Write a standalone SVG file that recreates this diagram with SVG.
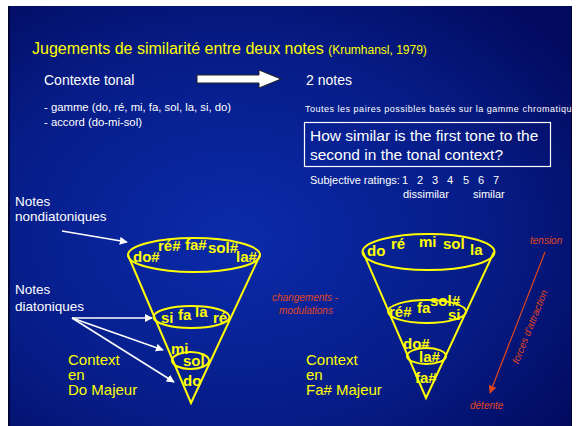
<svg xmlns="http://www.w3.org/2000/svg" width="576" height="426" viewBox="0 0 576 426">
<defs>
<radialGradient id="bg" cx="0.4" cy="0.55" r="0.75">
<stop offset="0" stop-color="#0b2bab"/>
<stop offset="0.6" stop-color="#061c86"/>
<stop offset="1" stop-color="#020a5e"/>
</radialGradient>
<clipPath id="slide"><rect x="8" y="6" width="564" height="420"/></clipPath>
<marker id="wa" viewBox="0 0 10 10" refX="9" refY="5" markerWidth="8" markerHeight="8" markerUnits="userSpaceOnUse" orient="auto">
<path d="M0,0 L10,5 L0,10 z" fill="#ffffff"/>
</marker>
<marker id="ra" viewBox="0 0 10 10" refX="9" refY="5" markerWidth="8" markerHeight="8" markerUnits="userSpaceOnUse" orient="auto">
<path d="M0,0 L10,5 L0,10 z" fill="#e0461c"/>
</marker>
<style>
text{font-family:"Liberation Sans",Arial,sans-serif}
.w{fill:#ffffff}
.y{fill:#ffff00}
.n{fill:#ffff00;font-weight:bold;font-size:15px}
.r{fill:#e0461c;font-style:italic;font-size:10px}
.cone{fill:none;stroke:#ffff00;stroke-width:2}
.wl{stroke:#ffffff;stroke-width:1.5;fill:none}
.ctx{fill:#ffff00;font-size:15px}
.lbl{fill:#ffffff;font-size:13.5px}
</style>
</defs>
<rect x="0" y="0" width="576" height="426" fill="#ffffff"/>
<rect x="8" y="6" width="564" height="420" fill="url(#bg)"/>
<line x1="9" y1="6" x2="9" y2="426" stroke="#000020" stroke-width="1.5"/>
<line x1="571.5" y1="6" x2="571.5" y2="426" stroke="#000030" stroke-width="1"/>

<g id="title">
<text x="32" y="54" class="y" font-size="16">Jugements de similarité entre deux notes <tspan font-size="12">(Krumhansl, 1979)</tspan></text>
</g>
<g id="context">
<text x="44" y="85" class="w" font-size="14">Contexte tonal</text>
<text x="44" y="111" class="w" font-size="11.3">- gamme (do, ré, mi, fa, sol, la, si, do)</text>
<text x="44" y="126" class="w" font-size="11.3">- accord (do-mi-sol)</text>
</g>
<g id="bigarrow">
<path d="M197,75 L259,75 L259,70 L281,79 L259,88 L259,83 L197,83 Z" fill="#ffffff" stroke="#202020" stroke-width="1"/>
</g>
<g id="twonotes">
<text x="306" y="85" class="w" font-size="14">2 notes</text>
<g clip-path="url(#slide)">
<text x="305" y="112" class="w" font-size="9" textLength="272" lengthAdjust="spacing">Toutes les paires possibles basés sur la gamme chromatique</text>
</g>
</g>
<g id="question">
<rect x="304.5" y="122.5" width="246" height="44" fill="none" stroke="#ffffff" stroke-width="1.2"/>
<text x="310" y="141" class="w" font-size="15.5">How similar is the first tone to the</text>
<text x="310" y="160" class="w" font-size="15.5">second in the tonal context?</text>
<text x="310" y="184" class="w" font-size="11">Subjective ratings:</text>
<text y="184" class="w" font-size="11"><tspan x="402">1</tspan><tspan x="417">2</tspan><tspan x="432">3</tspan><tspan x="447">4</tspan><tspan x="463">5</tspan><tspan x="478">6</tspan><tspan x="493">7</tspan></text>
<text x="403" y="198" class="w" font-size="11">dissimilar</text>
<text x="473" y="198" class="w" font-size="11">similar</text>
</g>

<g id="labels-left">
<text x="15" y="206" class="lbl">Notes</text>
<text x="15" y="221" class="lbl">nondiatoniques</text>
<text x="15" y="294" class="lbl">Notes</text>
<text x="15" y="311" class="lbl">diatoniques</text>
</g>

<g id="connectors">
<line x1="62" y1="231" x2="127" y2="242" class="wl" marker-end="url(#wa)"/>
<line x1="72" y1="318" x2="152" y2="318" class="wl" marker-end="url(#wa)"/>
<line x1="72" y1="318" x2="163" y2="350" class="wl" marker-end="url(#wa)"/>
<line x1="72" y1="318" x2="174" y2="382" class="wl" marker-end="url(#wa)"/>
<line x1="545" y1="252" x2="490" y2="393" stroke="#e0461c" stroke-width="1.2" marker-end="url(#ra)"/>
</g>

<g id="cone-do">
<path d="M128,255 L191,403 L260,255" class="cone"/>
<ellipse cx="194" cy="255" rx="66" ry="17" class="cone"/>
<ellipse cx="191.5" cy="317" rx="38" ry="11" class="cone"/>
<ellipse cx="190.5" cy="360.5" rx="18.5" ry="8.5" class="cone"/>
<text x="133" y="262" class="n">do#</text>
<text x="158" y="251" class="n">ré#</text>
<text x="185" y="250" class="n">fa#</text>
<text x="208" y="253" class="n">sol#</text>
<text x="236" y="262" class="n">la#</text>
<text x="161" y="323" class="n">si</text>
<text x="178" y="320" class="n">fa</text>
<text x="195" y="317" class="n">la</text>
<text x="213" y="323" class="n">ré</text>
<text x="171" y="354" class="n">mi</text>
<text x="183" y="366" class="n">sol</text>
<text x="183" y="386" class="n">do</text>
<text x="68" y="365" class="ctx">Context</text>
<text x="68" y="380" class="ctx">en</text>
<text x="68" y="395" class="ctx">Do Majeur</text>
</g>

<g id="cone-fa">
<path d="M363,252 L426,398 L494,252" class="cone"/>
<ellipse cx="428.5" cy="252" rx="66" ry="18" class="cone"/>
<ellipse cx="427" cy="311.5" rx="39" ry="11.5" class="cone"/>
<ellipse cx="426.5" cy="356" rx="19.5" ry="8" class="cone"/>
<text x="367" y="256" class="n">do</text>
<text x="391" y="249" class="n">ré</text>
<text x="419" y="247" class="n">mi</text>
<text x="443" y="249" class="n">sol</text>
<text x="470" y="255" class="n">la</text>
<text x="389" y="317" class="n">ré#</text>
<text x="417" y="313" class="n">fa</text>
<text x="430" y="306" class="n">sol#</text>
<text x="448" y="320" class="n">si</text>
<text x="403" y="349" class="n">do#</text>
<text x="419" y="362" class="n">la#</text>
<text x="415" y="383" class="n">fa#</text>
<text x="306" y="365" class="ctx">Context</text>
<text x="306" y="380" class="ctx">en</text>
<text x="306" y="395" class="ctx">Fa# Majeur</text>
</g>

<g id="modulations">
<text x="272" y="301" class="r">changements -</text>
<text x="279" y="314" class="r">modulations</text>
</g>
<g id="forces">
<text x="530" y="244" class="r">tension</text>
<text x="470" y="409" class="r">détente</text>
<text x="0" y="0" class="r" font-size="10.5" text-anchor="middle" transform="translate(533,328) rotate(-68)">forces d'attraction</text>
</g>
</svg>
